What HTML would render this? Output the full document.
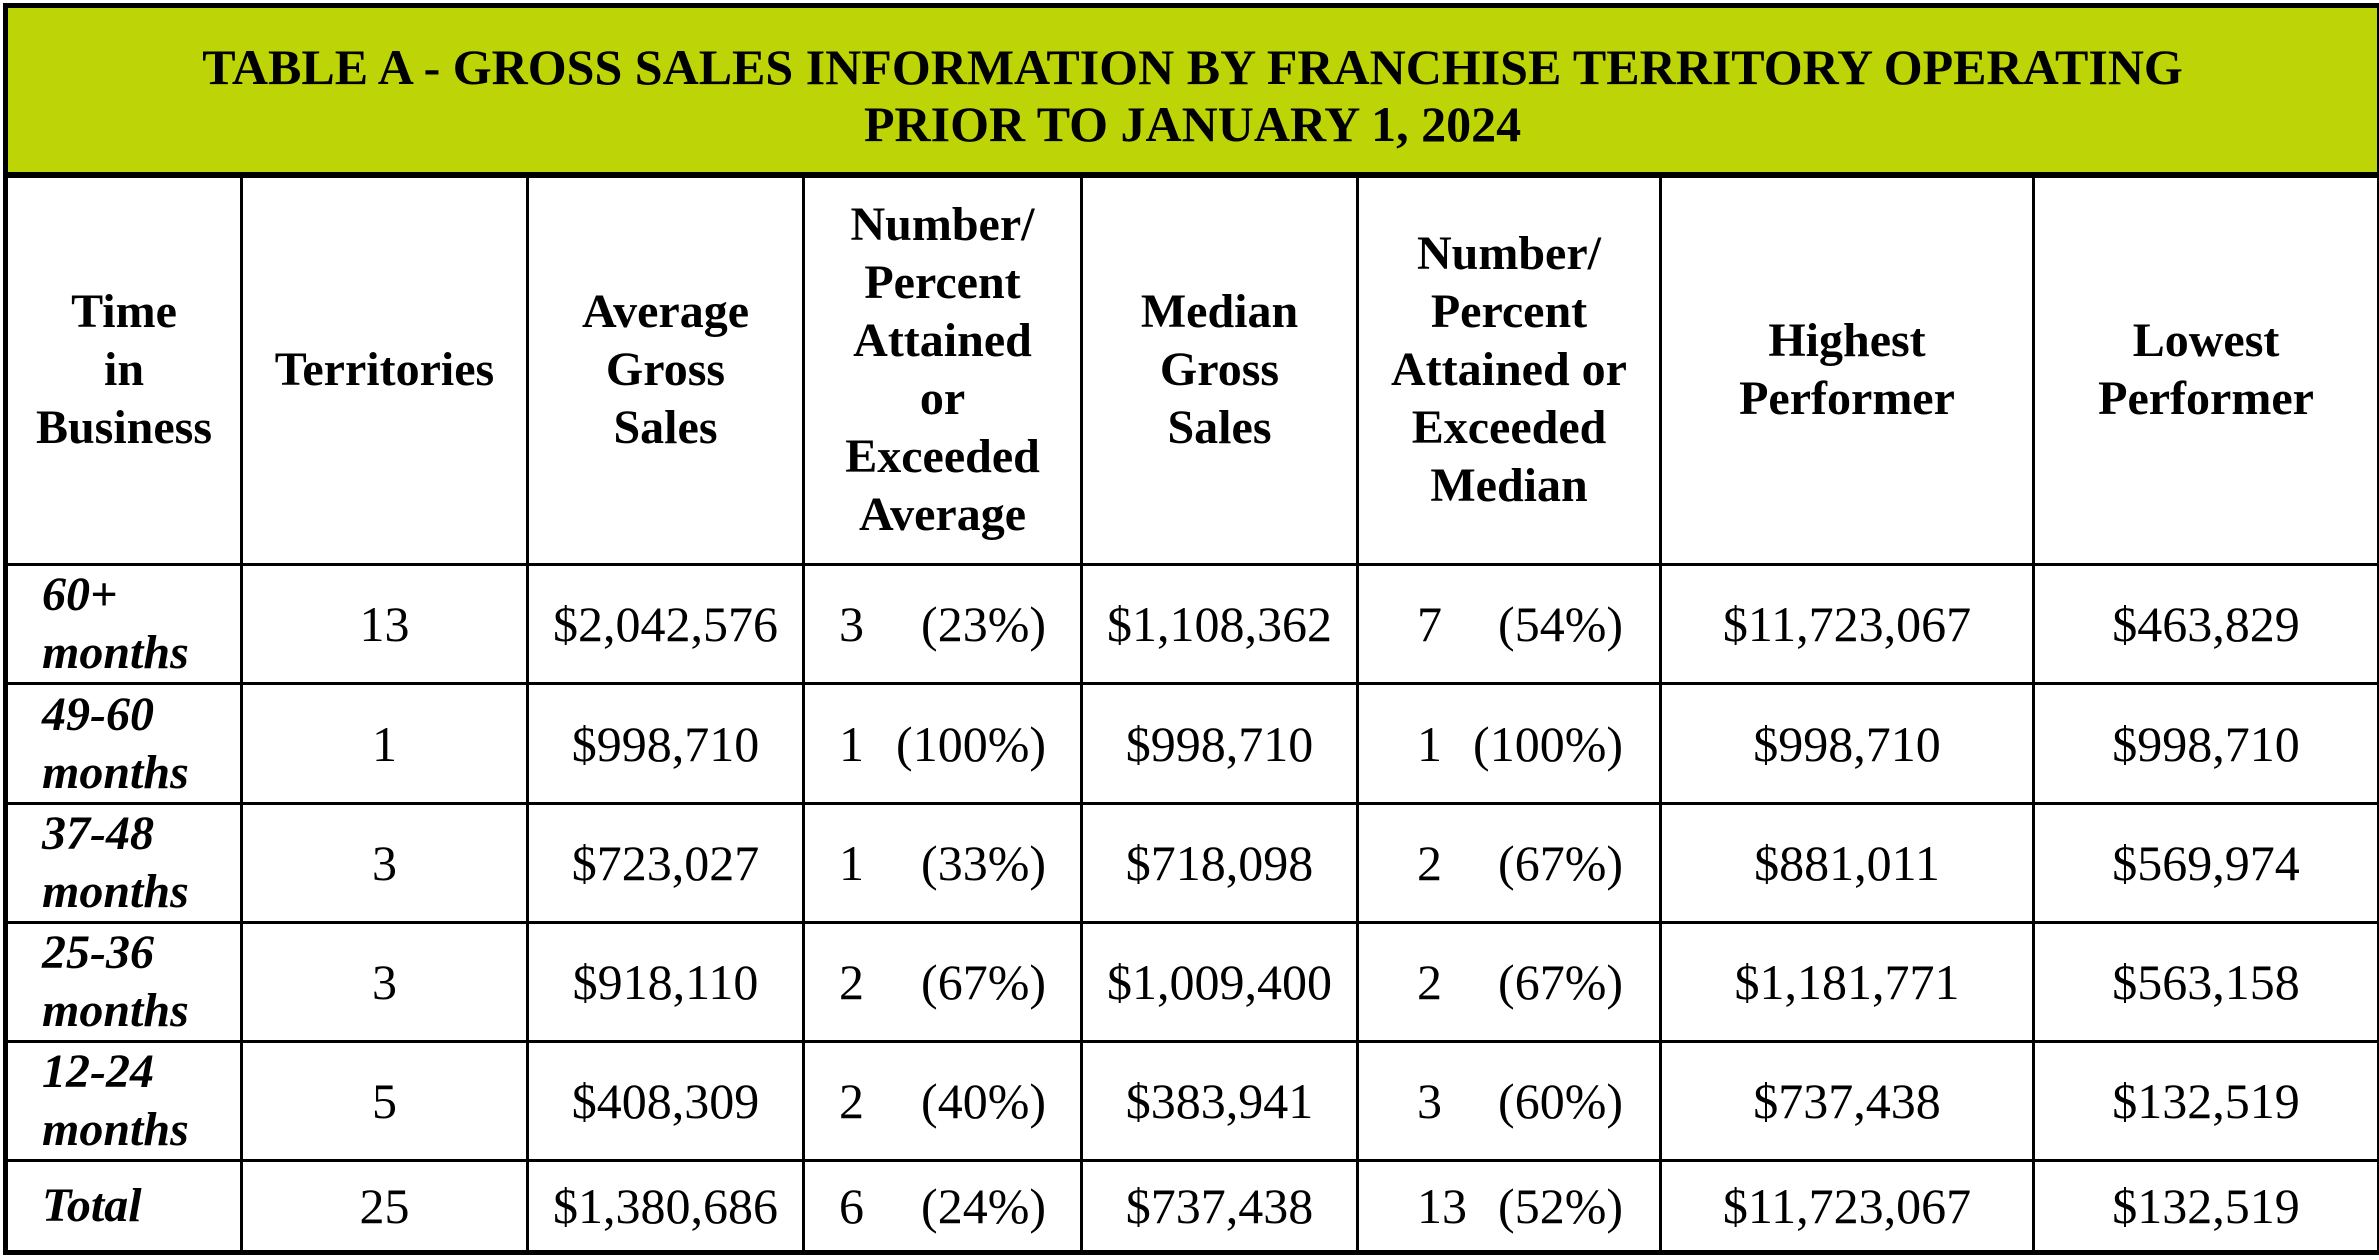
<!DOCTYPE html>
<html><head><meta charset="utf-8"><style>
html,body{margin:0;padding:0;background:#fff;}
body{width:2379px;height:1260px;overflow:hidden;position:relative;font-family:"Liberation Serif","Times New Roman",serif;color:#000;}
table{position:absolute;left:3px;top:3px;width:2374px;border-collapse:collapse;table-layout:fixed;border:5px solid #000;}
td,th{border:3px solid #000;padding:0;text-align:center;vertical-align:middle;overflow:hidden;}
.title{background:#bdd406;font-weight:bold;font-size:50px;line-height:57px;height:166px;border-bottom:6px solid #000;padding:12px 0 0 0;box-sizing:border-box;}
th{font-size:48px;line-height:58px;font-weight:bold;}
td{font-size:50px;line-height:56px;}
td.tb{text-align:left;font-style:italic;font-weight:bold;font-size:48px;line-height:58px;padding-left:34px;}
.np{display:flex;justify-content:space-between;padding:0 34px 0 34px;}
.np2{display:flex;justify-content:space-between;padding:0 36px 0 58px;}
</style></head><body>
<table>
<colgroup><col style="width:236px"><col style="width:286px"><col style="width:276px"><col style="width:278px"><col style="width:276px"><col style="width:303px"><col style="width:373px"><col style="width:346px"></colgroup>
<tr style="height:169px"><td colspan="8" class="title">TABLE A - GROSS SALES INFORMATION BY FRANCHISE TERRITORY OPERATING<br>PRIOR TO JANUARY 1, 2024</td></tr>
<tr style="height:390px">
<th>Time<br>in<br>Business</th>
<th>Territories</th>
<th>Average<br>Gross<br>Sales</th>
<th>Number/<br>Percent<br>Attained<br>or<br>Exceeded<br>Average</th>
<th>Median<br>Gross<br>Sales</th>
<th>Number/<br>Percent<br>Attained or<br>Exceeded<br>Median</th>
<th>Highest<br>Performer</th>
<th>Lowest<br>Performer</th>
</tr>
<tr style="height:119px"><td class="tb">60+<br>months</td><td>13</td><td>$2,042,576</td><td><div class="np"><span>3</span><span>(23%)</span></div></td><td>$1,108,362</td><td><div class="np2"><span>7</span><span>(54%)</span></div></td><td>$11,723,067</td><td>$463,829</td></tr>
<tr style="height:120px"><td class="tb">49-60<br>months</td><td>1</td><td>$998,710</td><td><div class="np"><span>1</span><span>(100%)</span></div></td><td>$998,710</td><td><div class="np2"><span>1</span><span>(100%)</span></div></td><td>$998,710</td><td>$998,710</td></tr>
<tr style="height:119px"><td class="tb">37-48<br>months</td><td>3</td><td>$723,027</td><td><div class="np"><span>1</span><span>(33%)</span></div></td><td>$718,098</td><td><div class="np2"><span>2</span><span>(67%)</span></div></td><td>$881,011</td><td>$569,974</td></tr>
<tr style="height:118px"><td class="tb">25-36<br>months</td><td>3</td><td>$918,110</td><td><div class="np"><span>2</span><span>(67%)</span></div></td><td>$1,009,400</td><td><div class="np2"><span>2</span><span>(67%)</span></div></td><td>$1,181,771</td><td>$563,158</td></tr>
<tr style="height:118px"><td class="tb">12-24<br>months</td><td>5</td><td>$408,309</td><td><div class="np"><span>2</span><span>(40%)</span></div></td><td>$383,941</td><td><div class="np2"><span>3</span><span>(60%)</span></div></td><td>$737,438</td><td>$132,519</td></tr>
<tr style="height:92px"><td class="tb">Total</td><td>25</td><td>$1,380,686</td><td><div class="np"><span>6</span><span>(24%)</span></div></td><td>$737,438</td><td><div class="np2"><span>13</span><span>(52%)</span></div></td><td>$11,723,067</td><td>$132,519</td></tr>
</table>
</body></html>
